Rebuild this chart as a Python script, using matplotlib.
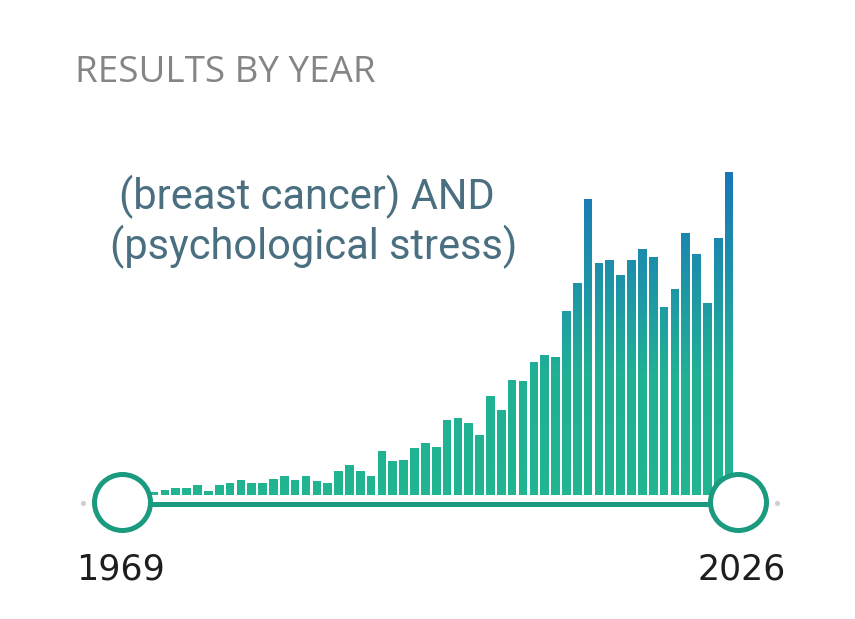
import matplotlib
matplotlib.use("Agg")
import matplotlib.pyplot as plt
import numpy as np
from matplotlib.path import Path
from matplotlib.patches import PathPatch
from matplotlib.colors import LinearSegmentedColormap

# ---- data ----
years = list(range(1969, 2027))
counts = [2, 4, 4, 6, 6, 10, 14, 14, 20, 9,
          20, 25, 31, 25, 25, 33, 39, 31, 39, 29,
          25, 48, 61, 48, 38, 88, 69, 71, 95, 105,
          97, 150, 155, 145, 120, 198, 171, 231, 228, 267,
          280, 277, 368, 425, 592, 465, 471, 441, 471, 493,
          477, 377, 412, 525, 482, 385, 514, 646]
title = "RESULTS BY YEAR"
query_lines = ["(breast cancer) AND", "(psychological stress)"]
start_label = "1969"
end_label = "2026"

W, H = 855, 619
fig = plt.figure(figsize=(W / 100, H / 100), dpi=100)
fig.patch.set_facecolor("white")
ax = fig.add_axes([60 / W, (H - 540) / H, 740 / W, 380 / H])
ax.set_xlim(1964.327, 2032.53)
ax.set_ylim(-90, 670)
ax.axis("off")

# bars with vertical gradient
bars = ax.bar(years, counts, width=0.8, color="#21b591", linewidth=0, zorder=2)
cmap = LinearSegmentedColormap.from_list(
    "grad", [(0.0, "#21b591"), (0.38, "#20b095"), (0.62, "#1e98a6"), (1.0, "#1976b9")])
grad = np.linspace(0, 1, 256).reshape(-1, 1)
x0, x1 = ax.get_xlim()
im = ax.imshow(grad, cmap=cmap, aspect="auto", origin="lower",
               extent=[x0, x1, 0, max(counts)], zorder=3, interpolation="bilinear")
paths = [b.get_path().transformed(b.get_patch_transform()) for b in bars]
clip = PathPatch(Path.make_compound_path(*paths), transform=ax.transData,
                 facecolor="none", edgecolor="none")
ax.add_patch(clip)
im.set_clip_path(clip)
ax.set_xlim(x0, x1)
ax.set_ylim(-90, 670)

# slider track and handles
teal = "#1a9a7e"
left_h = years[0] + 1.0
right_h = years[-1] + 0.8
ax.plot([left_h, right_h], [-18, -18], color=teal, lw=3.6, solid_capstyle="butt", zorder=4)
ax.scatter([years[0] - 2.55, years[-1] + 4.4], [-16, -16], s=14, color="#d0d0d0", zorder=4, linewidths=0)
ax.scatter([left_h, right_h], [-13, -13], s=1625, facecolor="white", edgecolor=teal,
           linewidths=3.6, zorder=5)

# texts
fig.text(75 / W, 1 - 82 / H, title, fontsize=26.5, color="#858585",
         family=["Open Sans", "DejaVu Sans"], fontweight="normal", va="baseline", ha="left")
fig.text(306.5 / W, 1 - 209 / H, query_lines[0], fontsize=30, color="#4a6f80",
         family=["Roboto", "DejaVu Sans"], va="baseline", ha="center")
fig.text(313.5 / W, 1 - 259 / H, query_lines[1], fontsize=30, color="#4a6f80",
         family=["Roboto", "DejaVu Sans"], va="baseline", ha="center")
fig.text(76 / W, 1 - 579 / H, start_label, fontsize=25, color="#1e1e1e",
         family="DejaVu Sans", va="baseline", ha="left")
fig.text(786 / W, 1 - 580 / H, end_label, fontsize=25, color="#1e1e1e",
         family="DejaVu Sans", va="baseline", ha="right")

fig.savefig("out.png", dpi=100, facecolor="white")
